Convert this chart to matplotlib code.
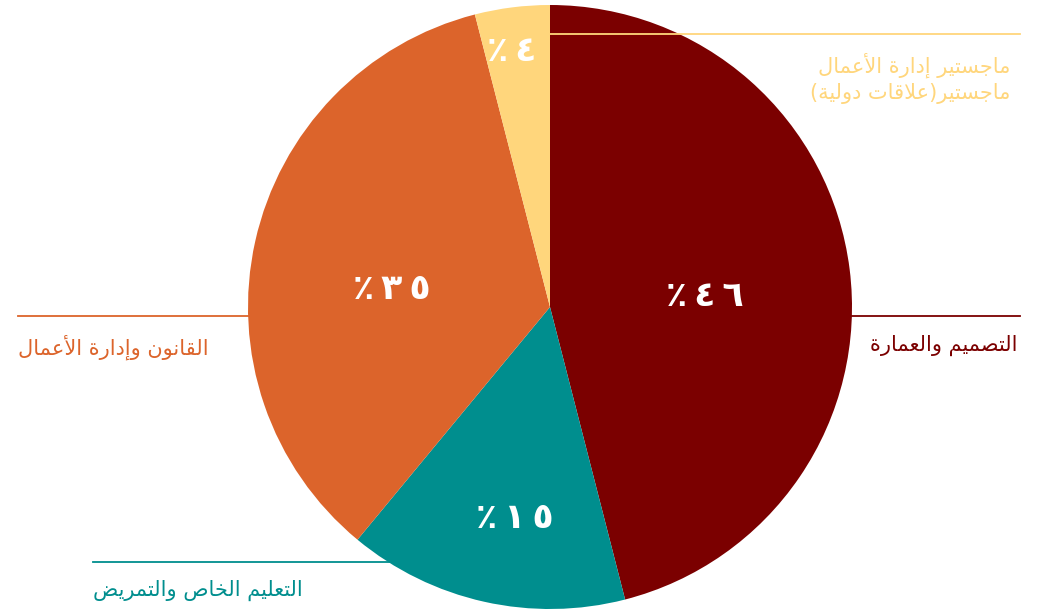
import matplotlib.pyplot as plt

# data
shares = [46, 15, 35, 4]
colors = ['#7b0000', '#008e8e', '#dc642b', '#ffd67c']
pct_labels = ['٪٤٦', '٪١٥', '٪٣٥', '٪٤']
names = ['التصميم والعمارة', 'التعليم الخاص والتمريض', 'القانون وإدارة الأعمال',
         'ماجستير إدارة الأعمال\nماجستير(علاقات دولية)']

# small arabic shaper (presentation forms), matplotlib has no shaping / bidi
DUAL = {'ب': 0xFE8F, 'ت': 0xFE95, 'ث': 0xFE99, 'ج': 0xFE9D, 'ح': 0xFEA1, 'خ': 0xFEA5,
        'س': 0xFEB1, 'ش': 0xFEB5, 'ص': 0xFEB9, 'ض': 0xFEBD, 'ط': 0xFEC1, 'ظ': 0xFEC5,
        'ع': 0xFEC9, 'غ': 0xFECD, 'ف': 0xFED1, 'ق': 0xFED5, 'ك': 0xFED9, 'ل': 0xFEDD,
        'م': 0xFEE1, 'ن': 0xFEE5, 'ه': 0xFEE9, 'ي': 0xFEF1, 'ئ': 0xFE89}
RIGHT = {'آ': 0xFE81, 'أ': 0xFE83, 'ؤ': 0xFE85, 'إ': 0xFE87, 'ا': 0xFE8D, 'ة': 0xFE93,
         'د': 0xFEA9, 'ذ': 0xFEAB, 'ر': 0xFEAD, 'ز': 0xFEAF, 'و': 0xFEED, 'ى': 0xFEEF}
LAMALEF = {'آ': 0xFEF5, 'أ': 0xFEF7, 'إ': 0xFEF9, 'ا': 0xFEFB}
MIRROR = {'(': ')', ')': '('}


def shape_line(s):
    chars = []
    i = 0
    while i < len(s):
        if s[i] == 'ل' and i + 1 < len(s) and s[i + 1] in LAMALEF:
            chars.append(('LA', s[i + 1]))
            i += 2
        else:
            chars.append(s[i])
            i += 1
    out = []
    for k, c in enumerate(chars):
        prev = chars[k - 1] if k > 0 else None
        nxt = chars[k + 1] if k + 1 < len(chars) else None
        jp = prev in DUAL
        if isinstance(c, tuple):
            out.append(chr(LAMALEF[c[1]] + (1 if jp else 0)))
        elif c in DUAL:
            jn = nxt in DUAL or nxt in RIGHT or isinstance(nxt, tuple)
            idx = 3 if (jp and jn) else 1 if jp else 2 if jn else 0
            out.append(chr(DUAL[c] + idx))
        elif c in RIGHT:
            out.append(chr(RIGHT[c] + (1 if jp else 0)))
        else:
            out.append(MIRROR.get(c, c))
    return ''.join(reversed(out))


def shape(s):
    return '\n'.join(shape_line(l) for l in s.split('\n'))


plt.rcParams['font.family'] = ['DejaVu Sans']
fig = plt.figure(figsize=(10.43, 6.09), dpi=100)
ax = fig.add_axes([0, 0, 1, 1])

ax.pie(shares, colors=colors, startangle=90, counterclock=False,
       center=(550, 302), radius=302, wedgeprops=dict(linewidth=0))

# percent labels (thin spaces to widen like the original heavy font)
pct_pos = [(705, 313), (515, 91), (392, 320), (512, 558)]
for (x, y), t in zip(pct_pos, pct_labels):
    ax.text(x, y, '\u2009'.join(t), color='white', fontsize=25, fontweight='bold',
            ha='center', va='center')

# leader lines
ax.plot([550, 1020], [575, 575], color=colors[3], lw=1.3)
ax.plot([852, 1020], [293, 293], color=colors[0], lw=1.3)
ax.plot([18, 249], [293, 293], color=colors[2], lw=1.3)
ax.plot([93, 390], [47, 47], color=colors[1], lw=1.3)

# category labels
ax.text(1018, 264, shape(names[0]), color=colors[0], fontsize=15, ha='right', va='center')
ax.text(93, 19, shape(names[1]), color=colors[1], fontsize=15, ha='left', va='center')
ax.text(18, 262, shape(names[2]), color=colors[2], fontsize=15, ha='left', va='center')
ax.text(1010, 531, shape(names[3]), color=colors[3], fontsize=15, ha='right', va='center',
        multialignment='right', linespacing=1.3)

ax.set_xlim(0, 1043)
ax.set_ylim(0, 609)
ax.set_aspect('equal')
ax.axis('off')

fig.savefig('out.png', dpi=100, facecolor='white')
